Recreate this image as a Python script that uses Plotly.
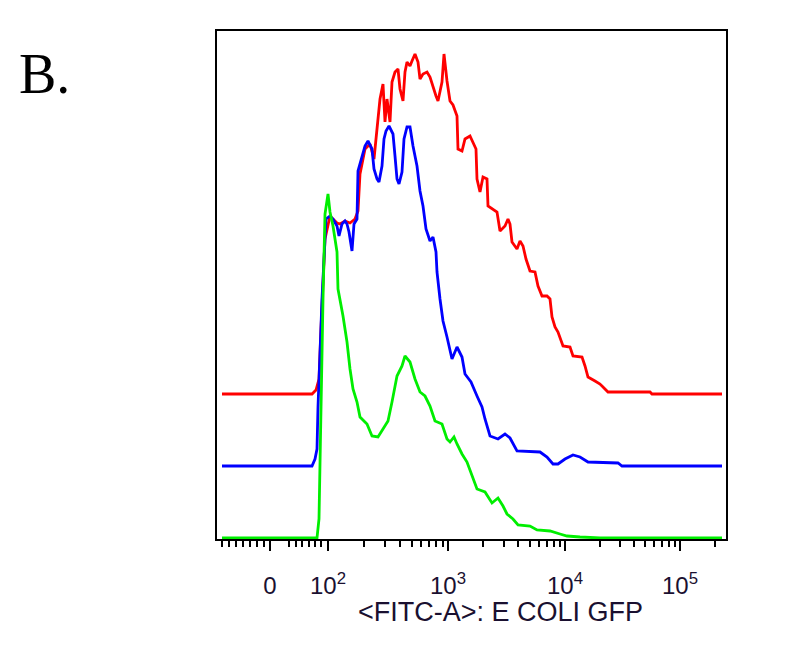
import numpy as np
import plotly.graph_objects as go

# Display channel (0..1018 across the axis) and event counts for each histogram
red_x = [10,190,198,204,208,216,226,232,240,246,256,266,276,282,286,296,306,314,320,326,332,336,340,346,350,356,362,366,372,376,380,386,390,396,402,406,412,420,426,432,438,442,450,454,460,466,472,480,482,490,496,506,512,518,520,526,532,540,542,552,560,566,576,582,586,590,600,606,612,618,626,636,642,650,660,666,670,676,682,692,706,712,730,736,742,756,766,772,782,866,870,1010]
red_y = [0,0,4,15,65,155,178,175,171,170,173,171,175,183,220,245,250,235,268,295,310,272,295,272,312,322,325,305,293,322,332,328,333,340,332,315,320,322,317,307,298,293,312,340,313,293,289,278,245,243,255,258,252,245,215,202,217,215,188,185,182,163,168,175,170,152,145,153,148,135,123,122,108,98,98,95,77,67,62,48,47,38,37,28,17,13,10,7,2,2,0,0]

blue_x = [10,190,196,200,202,210,218,226,232,240,244,250,256,260,264,270,274,280,282,290,296,302,310,314,320,324,330,334,338,344,352,356,360,364,370,374,380,386,392,400,406,412,418,426,432,438,440,446,452,460,470,480,490,496,508,520,530,536,546,562,576,586,600,646,660,672,682,696,712,726,742,802,810,1010]
blue_y = [0,0,7,17,59,167,247,250,247,240,230,242,245,242,234,215,242,247,295,310,320,325,317,297,287,284,300,327,335,340,332,310,287,282,294,327,339,339,320,300,275,260,237,225,229,214,194,167,145,129,107,119,109,92,84,70,59,47,30,27,32,28,15,14,9,2,2,7,11,9,4,3,0,0]

green_x = [10,200,204,208,212,216,220,222,226,232,236,240,242,252,260,266,272,280,286,300,310,322,332,342,350,360,370,376,386,396,406,416,426,436,450,460,466,474,480,490,500,510,520,536,550,562,572,580,592,602,626,640,666,686,700,726,766,1010]
green_y = [0,0,19,139,239,324,339,344,326,312,299,286,249,222,196,169,149,136,121,114,102,101,109,117,136,162,172,182,176,159,146,142,132,117,114,99,96,101,94,84,76,62,49,46,35,40,32,24,19,13,12,8,7,4,2,1,0,0]

# vertical stagger of the overlaid histograms (count units)
offsets = {"red": 144, "blue": 72, "green": 0}

# axis ticks (display channel positions)
major_tickvals = [106, 222, 462, 696, 926]
major_ticktext = ["0", "10<sup>2</sup>", "10<sup>3</sup>", "10<sup>4</sup>", "10<sup>5</sup>"]
linear_minor = [10, 24, 38, 52, 66, 80, 94, 144, 158, 170, 184, 196, 208]

# log minor ticks between decades
minor = list(linear_minor)
for lo, hi in zip(major_tickvals[1:-1], major_tickvals[2:]):
    for k in range(2, 10):
        minor.append(lo + np.log10(k) * (hi - lo))
minor.append(major_tickvals[-1] + np.log10(2) * (major_tickvals[-1] - major_tickvals[-2]))

fig = go.Figure()
for name, xs, ys, col in [("red", red_x, red_y, "#ff0000"),
                          ("blue", blue_x, blue_y, "#0000ff"),
                          ("green", green_x, green_y, "#00ee00")]:
    fig.add_trace(go.Scatter(x=xs, y=[v + offsets[name] for v in ys], mode="lines",
                             line=dict(color=col, width=2.8), showlegend=False,
                             hoverinfo="skip"))

fig.update_layout(
    width=800, height=669,
    margin=dict(l=209, r=82, t=23, b=138),
    paper_bgcolor="white", plot_bgcolor="white",
    font=dict(family="Liberation Sans, Arial, sans-serif", color="black"),
    xaxis=dict(range=[0, 1018], showgrid=False, zeroline=False,
               showline=True, mirror=True, linecolor="black", linewidth=2,
               ticks="outside", ticklen=10, tickwidth=2, tickcolor="black",
               tickmode="array", tickvals=major_tickvals, ticktext=major_ticktext,
               tickfont=dict(size=24, color="#1a1030"), ticklabelstandoff=14,
               minor=dict(tickmode="array", tickvals=minor, ticks="outside",
                          ticklen=6, tickwidth=2, tickcolor="black"),
               layer="below traces"),
    yaxis=dict(range=[-1, 507], showgrid=False, zeroline=False,
               showline=True, mirror=True, linecolor="black", linewidth=2,
               showticklabels=False, ticks=""),
    annotations=[
        dict(text="B.", xref="paper", yref="paper", x=-0.393, y=0.915,
             xanchor="left", yanchor="middle", showarrow=False,
             font=dict(family="Liberation Serif, Times New Roman, serif", size=56, color="black")),
        dict(text="&lt;FITC-A&gt;: E COLI GFP", xref="paper", yref="paper",
             x=0.556, y=-0.143, xanchor="center", yanchor="middle", showarrow=False,
             font=dict(size=27, color="#1a1030")),
    ],
)

fig.write_html("out.html")
